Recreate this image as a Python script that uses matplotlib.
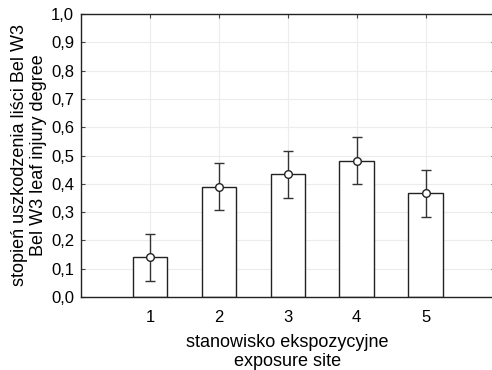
import numpy as np
import matplotlib
matplotlib.use("Agg")
import matplotlib.pyplot as plt

plt.rcParams['font.family'] = ['Liberation Sans', 'DejaVu Sans']

sites = [1, 2, 3, 4, 5]
means = [0.14, 0.389, 0.433, 0.482, 0.367]
ci = [0.083, 0.083, 0.083, 0.083, 0.083]
yticks = np.arange(0, 1.01, 0.1)
ytick_labels = [f"{v:.1f}".replace('.', ',') for v in yticks]

fig = plt.figure(figsize=(4.92, 3.70), dpi=100)
# right spine sits just past the figure edge, only its inward ticks show
ax = fig.add_axes([81 / 492, 73 / 370, 413.5 / 492, 283 / 370])

ax.bar(sites, means, width=0.5, color='white', edgecolor='#222222', linewidth=1.0, zorder=2)
ax.errorbar(sites, means, yerr=ci, fmt='o', color='#333333', ecolor='#333333',
            elinewidth=1.0, capsize=3.5, capthick=1.0,
            markersize=5.5, markerfacecolor='white', markeredgecolor='#222222',
            markeredgewidth=1.0, zorder=3)

ax.set_xlim(0, 6)
ax.set_ylim(0, 1.0)
ax.set_xticks(sites)
ax.set_yticks(yticks)
ax.set_yticklabels(ytick_labels)
ax.grid(True, color='#ececec', linewidth=0.8, zorder=0)
ax.set_axisbelow(True)

ax.tick_params(axis='both', direction='in', length=3, width=0.8, color='#444444',
               labelsize=12, top=True, right=True)
ax.tick_params(axis='x', pad=9)
ax.tick_params(axis='y', pad=5)
for s in ax.spines.values():
    s.set_color('#222222')
    s.set_linewidth(1.0)

ax.set_xlabel("stanowisko ekspozycyjne\nexposure site", fontsize=13, labelpad=7,
              linespacing=1.15)
ax.set_ylabel("stopień uszkodzenia liści Bel W3\nBel W3 leaf injury degree", fontsize=13,
              labelpad=3, linespacing=1.15)

fig.savefig("out.png", dpi=100)
